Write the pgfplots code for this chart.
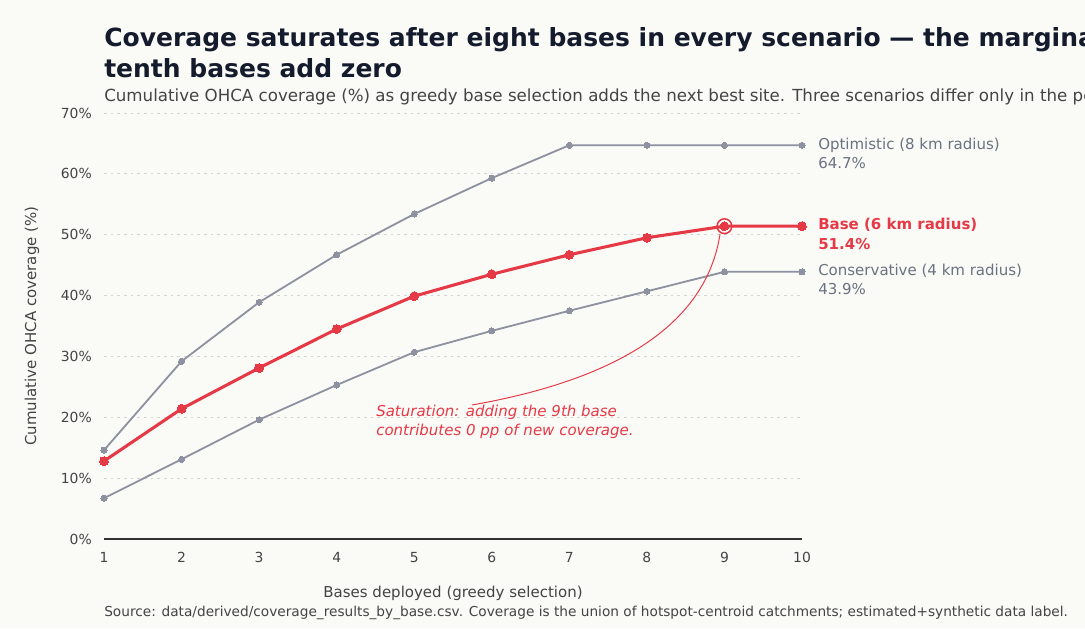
\documentclass[border=0pt]{standalone}
\usepackage{pgfplots}
\pgfplotsset{compat=1.18}
\usepackage{fontspec}
\setmainfont{DejaVu Sans}
\definecolor{bg}{HTML}{FAFAF7}
\definecolor{titlec}{HTML}{141B2D}
\definecolor{subc}{HTML}{444444}
\definecolor{greyl}{HTML}{8E91A0}
\definecolor{labc}{HTML}{6B7280}
\definecolor{redc}{HTML}{E63946}
\definecolor{gridc}{HTML}{D4D4D4}
\definecolor{zeroc}{HTML}{333333}
\begin{document}
\begin{tikzpicture}
\clip (0,0) rectangle (781.2pt,452.16pt);
\fill[bg] (0,0) rectangle (781.2pt,452.16pt);
\begin{axis}[
  at={(74.88pt,64.08pt)}, anchor=south west, scale only axis,
  width=502.56pt, height=306.72pt,
  xmin=1, xmax=10, ymin=0, ymax=70,
  axis line style={draw=none},
  xtick={1,2,...,10}, ytick={0,10,...,70},
  yticklabel={\pgfmathprintnumber{\tick}\%},
  major tick length=0pt,
  tick style={draw=none},
  ymajorgrids,
  grid style={gridc, line width=0.6pt, dash pattern=on 1.8pt off 3pt},
  ticklabel style={font=\fontsize{10}{12}\selectfont, text=subc},
  yticklabel style={anchor=east, inner sep=0pt, xshift=-8.6pt},
  xticklabel style={anchor=north, inner sep=0pt, yshift=-9.5pt},
  /pgf/number format/assume math mode=true,
  clip=false,
]
\draw[zeroc, line width=0.9pt] (axis cs:1,0) -- (axis cs:10,0);
% Optimistic
\addplot[greyl, line width=1.3pt, mark=*, mark size=2.2pt, mark options={fill=greyl, draw=greyl, line width=0pt}]
coordinates {(1,14.6) (2,29.2) (3,38.9) (4,46.7) (5,53.4) (6,59.3) (7,64.7) (8,64.7) (9,64.7) (10,64.7)};
% Conservative
\addplot[greyl, line width=1.3pt, mark=*, mark size=2.2pt, mark options={fill=greyl, draw=greyl, line width=0pt}]
coordinates {(1,6.7) (2,13.1) (3,19.6) (4,25.3) (5,30.7) (6,34.2) (7,37.5) (8,40.7) (9,43.9) (10,43.9)};
% Base
\addplot[redc, line width=2.2pt, mark=*, mark size=3.2pt, mark options={fill=redc, draw=redc, line width=0pt}]
coordinates {(1,12.8) (2,21.4) (3,28.1) (4,34.5) (5,39.9) (6,43.5) (7,46.7) (8,49.5) (9,51.4) (10,51.4)};
% saturation ring
\addplot[redc, only marks, mark=o, mark size=5.3pt, mark options={line width=1.1pt}]
coordinates {(9,51.4)};
% arrow
\draw[redc, line width=0.7pt] (axis cs:5.745,22.02) .. controls (axis cs:7.705,26.41) and (axis cs:8.771,35.87) .. (axis cs:8.943,50.1);
% annotation text
\node[anchor=base west, inner sep=0pt, text=redc, font=\fontsize{10.8}{13}\selectfont\itshape] at (axis cs:4.507,20.05) {Saturation: adding the 9th base};
\node[anchor=base west, inner sep=0pt, text=redc, font=\fontsize{10.8}{13}\selectfont\itshape] at (axis cs:4.507,17.0) {contributes 0 pp of new coverage.};
% right labels
\node[anchor=mid west, inner sep=0pt, xshift=11.5pt, text=labc, font=\fontsize{10.8}{13}\selectfont] at (axis cs:10,64.7) {Optimistic (8 km radius)};
\node[anchor=mid west, inner sep=0pt, xshift=11.5pt, yshift=-13.9pt, text=labc, font=\fontsize{10.8}{13}\selectfont] at (axis cs:10,64.7) {64.7\%};
\node[anchor=mid west, inner sep=0pt, xshift=11.5pt, text=redc, font=\fontsize{10.8}{13}\selectfont\bfseries] at (axis cs:10,51.4) {Base (6 km radius)};
\node[anchor=mid west, inner sep=0pt, xshift=11.5pt, yshift=-13.9pt, text=redc, font=\fontsize{10.8}{13}\selectfont\bfseries] at (axis cs:10,51.4) {51.4\%};
\node[anchor=mid west, inner sep=0pt, xshift=11.5pt, text=labc, font=\fontsize{10.8}{13}\selectfont] at (axis cs:10,43.9) {Conservative (4 km radius)};
\node[anchor=mid west, inner sep=0pt, xshift=11.5pt, yshift=-13.9pt, text=labc, font=\fontsize{10.8}{13}\selectfont] at (axis cs:10,43.9) {43.9\%};
\end{axis}
% titles (coordinates in px * 0.72pt, y up)
\node[anchor=base west, inner sep=0pt, text=titlec, font=\fontsize{18}{21}\selectfont\bfseries] at (74.88pt,419.0pt) {Coverage saturates after eight bases in every scenario \textemdash{} the marginal ninth and};
\node[anchor=base west, inner sep=0pt, text=titlec, font=\fontsize{18}{21}\selectfont\bfseries] at (74.88pt,396.7pt) {tenth bases add zero};
\node[anchor=base west, inner sep=0pt, text=subc, font=\fontsize{12}{14}\selectfont] at (74.88pt,379.0pt) {Cumulative OHCA coverage (\%) as greedy base selection adds the next best site. Three scenarios differ only in the per-base catchment radius.};
% axis labels
\node[anchor=center, inner sep=0pt, text=subc, font=\fontsize{10.8}{13}\selectfont, rotate=90] at (23.04pt,217.44pt) {Cumulative OHCA coverage (\%)};
\node[anchor=center, inner sep=0pt, text=subc, font=\fontsize{10.8}{13}\selectfont] at (326.16pt,25.2pt) {Bases deployed (greedy selection)};
\node[anchor=base west, inner sep=0pt, text=subc, font=\fontsize{9.85}{11}\selectfont] at (74.88pt,7.92pt) {Source: data/derived/coverage\_results\_by\_base.csv. Coverage is the union of hotspot-centroid catchments; estimated+synthetic data label.};
\end{tikzpicture}
\end{document}
